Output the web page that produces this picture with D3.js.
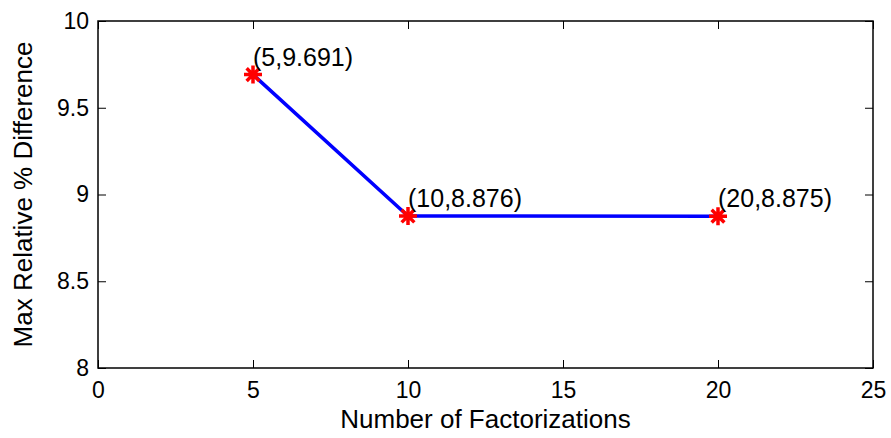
<!DOCTYPE html>
<html>
<head>
<meta charset="utf-8">
<script src="https://cdn.jsdelivr.net/npm/d3@7"></script>
<style>
  html, body { margin: 0; padding: 0; background: #fff; }
  svg { display: block; font-family: "Liberation Sans", Arial, sans-serif; }
</style>
</head>
<body>
<svg id="chart" width="891" height="438"></svg>
<script>
// Factorization counts and the resulting max relative % difference
const factorizations = [5, 10, 20];
const maxRelDiff = [9.691, 8.876, 8.875];
const pointLabels = ["(5,9.691)", "(10,8.876)", "(20,8.875)"];
const xTicks = [0, 5, 10, 15, 20, 25];
const yTicks = [8, 8.5, 9, 9.5, 10];
const xTitle = "Number of Factorizations";
const yTitle = "Max Relative % Difference";

const svg = d3.select("#chart");
const plot = { left: 98, right: 873, top: 21, bottom: 368 };

const x = d3.scaleLinear().domain([0, 25]).range([plot.left, plot.right]);
const y = d3.scaleLinear().domain([8, 10]).range([plot.bottom, plot.top]);

const tickLen = 8;
const tickFont = 23;
const labelFont = 26;

function styleAxis(g, fontSize) {
  g.select(".domain").remove();
  g.selectAll(".tick line").attr("stroke", "#000").attr("stroke-width", 1);
  g.selectAll(".tick text")
    .attr("fill", "#000")
    .style("font-size", fontSize + "px")
    .style("font-family", "'Liberation Sans', Arial, sans-serif");
}

// bottom axis, ticks pointing inward
svg.append("g")
  .attr("transform", `translate(0,${plot.bottom})`)
  .call(d3.axisBottom(x).tickValues(xTicks).tickFormat(d => String(d))
    .tickSizeInner(-tickLen).tickSizeOuter(0).tickPadding(14))
  .call(g => styleAxis(g, tickFont));

// top axis: ticks only
svg.append("g")
  .attr("transform", `translate(0,${plot.top})`)
  .call(d3.axisTop(x).tickValues(xTicks).tickFormat("")
    .tickSizeInner(-tickLen).tickSizeOuter(0))
  .call(g => styleAxis(g, tickFont));

// left axis
svg.append("g")
  .attr("transform", `translate(${plot.left},0)`)
  .call(d3.axisLeft(y).tickValues(yTicks).tickFormat(d => String(d))
    .tickSizeInner(-tickLen).tickSizeOuter(0).tickPadding(9))
  .call(g => styleAxis(g, tickFont));

// right axis: ticks only
svg.append("g")
  .attr("transform", `translate(${plot.right},0)`)
  .call(d3.axisRight(y).tickValues(yTicks).tickFormat("")
    .tickSizeInner(-tickLen).tickSizeOuter(0))
  .call(g => styleAxis(g, tickFont));

// axes box
svg.append("rect")
  .attr("x", plot.left).attr("y", plot.top)
  .attr("width", plot.right - plot.left)
  .attr("height", plot.bottom - plot.top)
  .attr("fill", "none").attr("stroke", "#000").attr("stroke-width", 1.5);

const data = factorizations.map((f, i) => ({ f, v: maxRelDiff[i], label: pointLabels[i] }));

// blue connecting line
svg.append("path")
  .datum(data)
  .attr("fill", "none")
  .attr("stroke", "#0000ff")
  .attr("stroke-width", 3.5)
  .attr("d", d3.line().x(d => x(d.f)).y(d => y(d.v)));

// red asterisk markers
const r = 9;
const star = [];
for (let k = 0; k < 4; k++) {
  const a = k * Math.PI / 4;
  star.push(`M${-r * Math.cos(a)},${-r * Math.sin(a)}L${r * Math.cos(a)},${r * Math.sin(a)}`);
}
svg.append("g").selectAll("path.marker")
  .data(data)
  .join("path")
  .attr("class", "marker")
  .attr("transform", d => `translate(${x(d.f)},${y(d.v)})`)
  .attr("d", star.join(""))
  .attr("stroke", "#ff0000")
  .attr("stroke-width", 3.5)
  .attr("fill", "none");

// data point annotations
svg.append("g").selectAll("text.pt")
  .data(data)
  .join("text")
  .attr("class", "pt")
  .attr("x", d => x(d.f))
  .attr("y", d => y(d.v) - 9)
  .attr("fill", "#000")
  .style("font-size", "25px")
  .text(d => d.label);

// axis titles
svg.append("text")
  .attr("x", (plot.left + plot.right) / 2)
  .attr("y", 428)
  .attr("text-anchor", "middle")
  .style("font-size", labelFont + "px")
  .text(xTitle);

svg.append("text")
  .attr("transform", `translate(32,${(plot.top + plot.bottom) / 2}) rotate(-90)`)
  .attr("text-anchor", "middle")
  .style("font-size", labelFont + "px")
  .text(yTitle);
</script>
</body>
</html>
